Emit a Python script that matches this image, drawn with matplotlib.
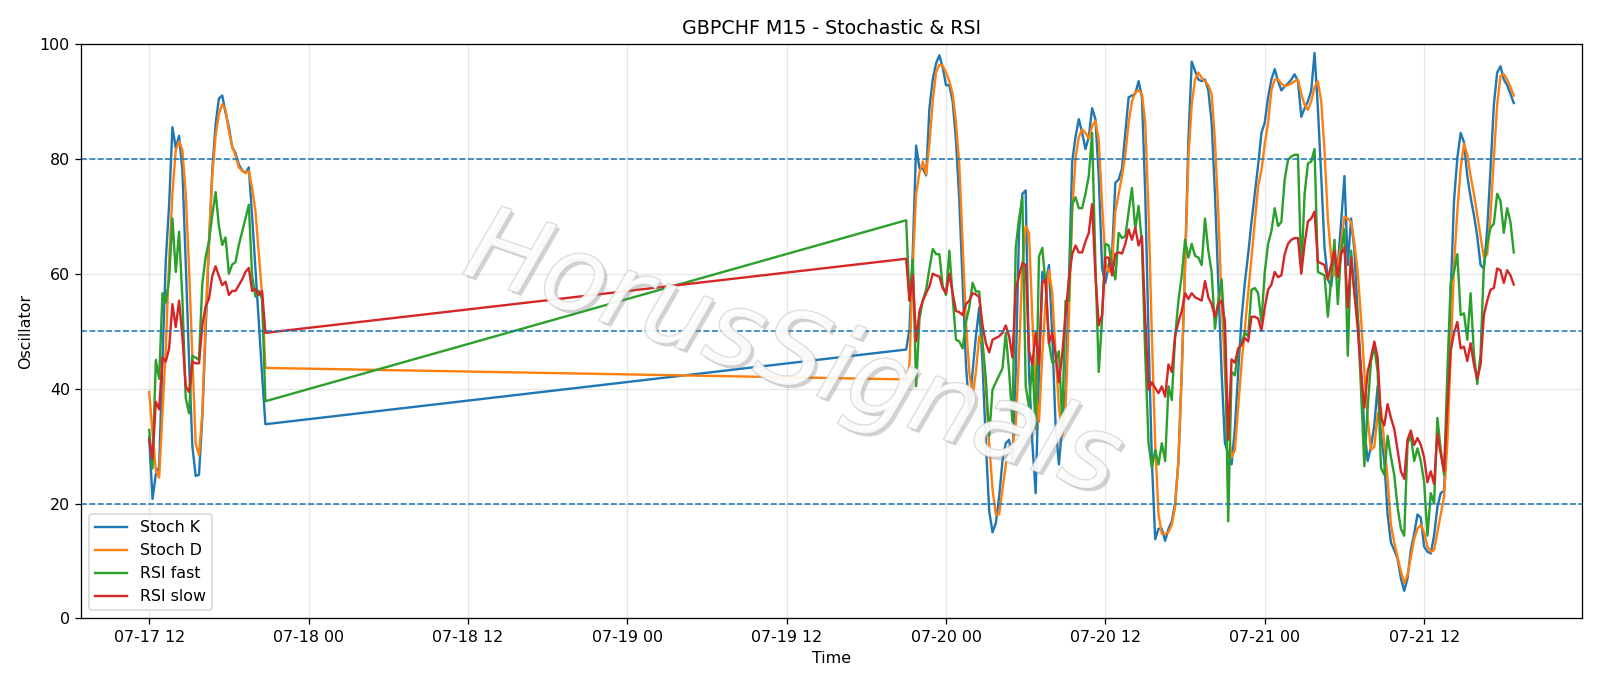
import matplotlib
matplotlib.use("Agg")
import matplotlib.pyplot as plt
import matplotlib.dates as mdates
import matplotlib.patheffects as pe
import pandas as pd

# 15-minute bars, Friday session then Sunday evening onwards
friday_start = "2020-07-17 12:00"
sunday_start = "2020-07-19 21:00"
n_friday = 36

stoch_k = [
    31.5, 20.8, 25.1, 26.4, 45.0, 62.3, 72.0, 85.5, 81.9, 84.0,
    78.0, 62.0, 45.0, 30.0, 24.8, 25.0, 35.0, 50.0, 65.0, 78.0,
    86.0, 90.5, 91.0, 88.0, 85.5, 82.0, 81.0, 79.0, 78.0, 77.5,
    78.5, 70.0, 61.0, 51.7, 42.4, 33.8,
    46.8, 50.4, 64.0, 82.3, 78.3, 78.3, 77.1, 88.8, 93.8, 96.6,
    98.0, 95.9, 92.8, 92.8, 90.0, 83.2, 72.7, 58.4, 44.2, 36.1,
    42.9, 49.1, 54.1, 44.2, 30.5, 18.7, 15.0, 16.6, 21.2, 27.4,
    30.5, 31.1, 27.4, 42.9, 67.7, 73.9, 74.5, 42.9, 30.5, 21.8,
    42.9, 60.3, 58.4, 61.5, 49.1, 33.6, 26.8, 33.6, 39.8, 58.4,
    79.5, 83.8, 86.9, 84.5, 81.7, 83.8, 88.8, 86.9, 77.0, 60.9,
    58.4, 61.5, 63.4, 75.8, 76.4, 78.3, 84.5, 90.7, 91.0, 91.3,
    93.5, 90.7, 73.9, 49.1, 27.4, 13.8, 15.6, 15.6, 13.5, 15.6,
    16.9, 20.0, 27.4, 42.9, 61.5, 83.2, 96.9, 95.3, 93.8, 93.5,
    93.8, 91.9, 86.3, 73.9, 58.4, 42.9, 30.5, 28.7, 26.8, 33.0,
    42.9, 52.2, 58.4, 63.4, 69.0, 73.9, 78.9, 84.5, 86.3, 90.7,
    93.8, 95.6, 93.5, 91.9, 92.6, 93.1, 93.8, 94.7, 93.5, 87.3,
    88.8, 90.0, 91.9, 98.4, 88.8, 77.0, 64.6, 59.0, 57.8, 62.8,
    61.5, 69.0, 77.0, 61.5, 69.6, 64.0, 52.8, 42.9, 33.0, 27.4,
    29.9, 33.6, 40.4, 32.0, 27.4, 18.1, 13.2, 11.9, 10.4, 7.0,
    4.8, 7.0, 11.9, 14.7, 18.1, 17.5, 12.5, 11.6, 11.3, 14.4,
    19.4, 21.8, 22.2, 36.7, 56.6, 72.7, 80.1, 84.5, 82.9, 77.0,
    73.3, 70.2, 66.5, 61.5, 60.9, 67.7, 78.3, 89.4, 95.0, 96.1,
    93.8, 92.8, 91.3, 89.7,
]

stoch_d = [
    39.4, 32.4, 25.8, 24.5, 35.7, 47.0, 62.3, 74.0, 81.5, 83.0,
    81.5, 74.0, 61.0, 45.7, 30.4, 28.4, 35.7, 52.3, 65.6, 77.0,
    84.0, 87.8, 89.5, 88.5, 84.8, 82.2, 80.5, 78.5, 77.9, 77.5,
    77.9, 74.9, 70.9, 63.6, 56.3, 43.6,
    41.6, 44.2, 61.5, 73.9, 77.6, 79.5, 77.3, 82.6, 90.0, 95.0,
    96.4, 96.2, 95.0, 93.5, 91.3, 86.3, 78.9, 65.2, 51.6, 42.9,
    38.6, 42.9, 49.1, 47.9, 39.8, 30.5, 22.5, 18.1, 18.1, 22.5,
    26.8, 29.9, 29.9, 33.6, 46.0, 61.5, 68.3, 67.1, 52.2, 39.8,
    34.2, 46.0, 55.3, 60.6, 56.6, 46.0, 36.7, 31.8, 36.7, 52.2,
    70.8, 80.1, 83.8, 85.1, 84.5, 83.5, 85.7, 86.6, 83.2, 72.1,
    62.1, 60.3, 61.5, 70.8, 73.9, 77.0, 80.7, 86.3, 90.0, 91.6,
    91.9, 91.3, 86.3, 70.8, 49.1, 30.5, 18.1, 14.7, 14.7, 15.0,
    16.3, 19.4, 27.4, 42.9, 61.5, 80.1, 89.4, 93.8, 95.0, 94.1,
    93.5, 92.8, 91.3, 83.2, 70.8, 55.3, 42.9, 33.6, 28.0, 29.3,
    36.7, 44.2, 50.4, 56.6, 62.8, 69.0, 75.2, 78.0, 82.5, 86.3,
    91.9, 93.8, 93.8, 93.1, 92.6, 92.8, 93.1, 93.5, 93.8, 91.3,
    89.4, 88.5, 90.0, 92.5, 93.5, 90.0, 81.4, 69.6, 62.8, 59.7,
    61.5, 65.2, 69.9, 69.6, 69.0, 65.2, 60.3, 52.2, 42.9, 34.8,
    29.3, 29.9, 35.5, 36.7, 30.5, 24.3, 16.3, 13.2, 10.7, 8.2,
    6.1, 7.6, 10.7, 13.8, 15.6, 16.3, 15.0, 12.5, 11.6, 11.9,
    15.0, 18.1, 21.2, 30.5, 46.0, 61.5, 70.8, 78.3, 82.6, 80.7,
    77.0, 73.9, 70.2, 66.5, 62.8, 63.4, 70.2, 80.1, 89.4, 94.4,
    94.7, 93.8, 92.5, 91.0,
]

rsi_fast = [
    32.8, 26.1, 45.0, 41.7, 56.6, 55.0, 59.0, 69.6, 60.3, 67.3,
    55.6, 38.4, 35.7, 45.7, 45.4, 45.0, 58.3, 62.9, 65.6, 70.2,
    74.2, 68.3, 65.0, 66.3, 60.0, 61.6, 62.0, 65.0, 67.3, 69.6,
    72.0, 59.6, 56.0, 57.0, 55.6, 37.8,
    69.3, 55.3, 62.5, 40.4, 52.2, 55.3, 57.2, 60.9, 64.3, 63.4,
    63.4, 57.8, 56.3, 64.0, 55.9, 48.5, 48.2, 47.0, 51.6, 54.1,
    58.4, 56.9, 56.9, 47.9, 41.7, 31.8, 39.8, 41.1, 42.3, 43.5,
    49.7, 42.9, 34.2, 64.6, 69.6, 73.3, 40.4, 36.7, 45.0, 33.0,
    63.0, 64.5, 58.0, 48.0, 44.5, 44.8, 46.5, 34.0, 55.3, 55.3,
    72.1, 73.3, 71.4, 71.4, 73.9, 77.0, 84.5, 61.5, 42.9, 52.2,
    65.2, 64.9, 61.5, 59.0, 67.1, 66.2, 66.5, 70.8, 74.9, 67.7,
    71.8, 65.2, 46.0, 30.5, 26.2, 29.3, 26.8, 30.5, 27.4, 40.4,
    38.0, 49.1, 55.3, 59.7, 65.9, 62.8, 65.2, 63.1, 62.8, 61.5,
    69.6, 64.0, 60.3, 50.4, 55.3, 59.0, 49.1, 16.9, 42.9, 42.3,
    46.6, 47.9, 49.7, 49.1, 57.2, 57.5, 56.6, 51.6, 60.3, 65.2,
    67.4, 71.4, 68.3, 69.0, 76.4, 79.8, 80.4, 80.7, 80.7, 60.3,
    73.9, 79.2, 79.5, 81.7, 60.3, 60.0, 59.7, 52.5, 59.0, 65.9,
    54.7, 64.0, 67.7, 45.7, 64.0, 56.6, 52.8, 39.8, 26.5, 36.7,
    44.8, 47.3, 42.9, 26.2, 25.0, 31.8, 28.1, 25.0, 19.4, 15.6,
    14.4, 30.5, 31.8, 27.4, 29.6, 27.4, 23.7, 14.4, 21.8, 20.0,
    34.9, 29.3, 25.0, 42.9, 58.4, 60.3, 63.4, 52.8, 53.1, 48.5,
    56.6, 46.0, 40.8, 46.0, 61.5, 65.2, 68.0, 68.7, 73.9, 72.7,
    67.1, 71.4, 69.0, 63.7,
]

rsi_slow = [
    31.1, 27.8, 37.7, 36.4, 45.4, 44.7, 47.0, 54.7, 50.7, 55.3,
    49.0, 40.4, 39.4, 44.7, 44.4, 44.4, 51.0, 54.3, 55.6, 59.6,
    61.3, 59.6, 58.0, 58.6, 56.3, 57.0, 57.0, 58.0, 59.0, 60.3,
    61.0, 57.0, 57.3, 56.3, 57.0, 49.7,
    62.6, 55.3, 59.7, 48.2, 53.5, 55.3, 56.6, 57.8, 60.0, 59.7,
    59.5, 57.5, 56.6, 60.0, 56.6, 53.5, 53.3, 52.8, 54.7, 55.3,
    56.6, 56.4, 55.9, 51.0, 47.9, 46.3, 48.5, 48.8, 49.1, 49.7,
    51.0, 49.1, 45.4, 57.2, 59.7, 61.8, 61.5, 46.6, 44.2, 49.7,
    44.2, 58.4, 59.0, 47.9, 49.7, 46.0, 41.1, 46.0, 52.8, 59.0,
    63.4, 64.9, 63.7, 63.7, 65.6, 67.1, 72.1, 59.7, 51.0, 52.8,
    62.8, 62.8, 59.7, 63.4, 63.7, 63.5, 65.2, 67.7, 65.9, 68.0,
    64.9, 66.5, 52.2, 39.8, 41.1, 40.1, 39.2, 40.4, 38.6, 44.2,
    42.9, 49.1, 51.6, 53.5, 56.6, 55.6, 56.6, 55.9, 55.6, 55.3,
    58.7, 55.9, 54.7, 52.5, 54.7, 55.3, 51.6, 31.1, 45.1, 44.5,
    47.0, 47.6, 48.8, 48.2, 52.5, 52.5, 52.2, 50.1, 54.1, 57.2,
    58.1, 60.3, 59.4, 59.7, 63.4, 65.2, 65.9, 66.2, 66.2, 60.0,
    65.2, 69.1, 69.6, 70.8, 62.1, 61.8, 61.5, 59.0, 61.5, 64.0,
    59.4, 63.4, 64.6, 54.1, 62.8, 56.6, 50.4, 42.9, 36.7, 42.9,
    45.4, 48.2, 45.4, 34.9, 33.6, 37.3, 34.9, 33.0, 29.3, 25.6,
    24.3, 31.1, 32.7, 30.2, 31.4, 30.2, 28.0, 23.7, 25.6, 23.4,
    32.1, 28.7, 25.6, 36.7, 46.6, 49.7, 51.6, 47.0, 47.3, 44.8,
    47.9, 44.2, 41.7, 44.2, 52.8, 55.3, 57.2, 57.5, 60.9, 60.6,
    58.4, 60.6, 59.7, 58.1,
]

levels = [20, 50, 80]

times = pd.date_range(friday_start, periods=n_friday, freq="15min").append(
    pd.date_range(sunday_start, periods=len(stoch_k) - n_friday, freq="15min"))

fig = plt.figure(figsize=(14, 6.003), dpi=1600 / 14)
ax = fig.add_axes([0.0506, 0.0985, 0.93815, 0.8375])

ax.plot(times, stoch_k, label="Stoch K")
ax.plot(times, stoch_d, label="Stoch D")
ax.plot(times, rsi_fast, label="RSI fast")
ax.plot(times, rsi_slow, label="RSI slow")
for lv in levels:
    ax.axhline(lv, color="tab:blue", linestyle="--", linewidth=1)

ax.set_ylim(0, 100)
ax.xaxis.set_major_locator(mdates.HourLocator(byhour=[0, 12]))
ax.xaxis.set_major_formatter(mdates.DateFormatter("%m-%d %H"))
ax.grid(True, alpha=0.3)
ax.set_title("GBPCHF M15 - Stochastic & RSI")
ax.set_xlabel("Time")
ax.set_ylabel("Oscillator")
ax.legend(loc="lower left")

# watermark: pale hollow-looking letters with a soft shadow
fig.text(0.4956, 0.48, "HorusSignals", fontsize=66, rotation=-19, style="italic",
         color="white", alpha=0.7, ha="center", va="center", zorder=10,
         path_effects=[pe.SimplePatchShadow(offset=(2, -2), shadow_rgbFace="gray", alpha=0.35),
                       pe.Stroke(linewidth=1.2, foreground="#c8c8c8"),
                       pe.Normal()])

fig.savefig("out.png", dpi=1600 / 14)
